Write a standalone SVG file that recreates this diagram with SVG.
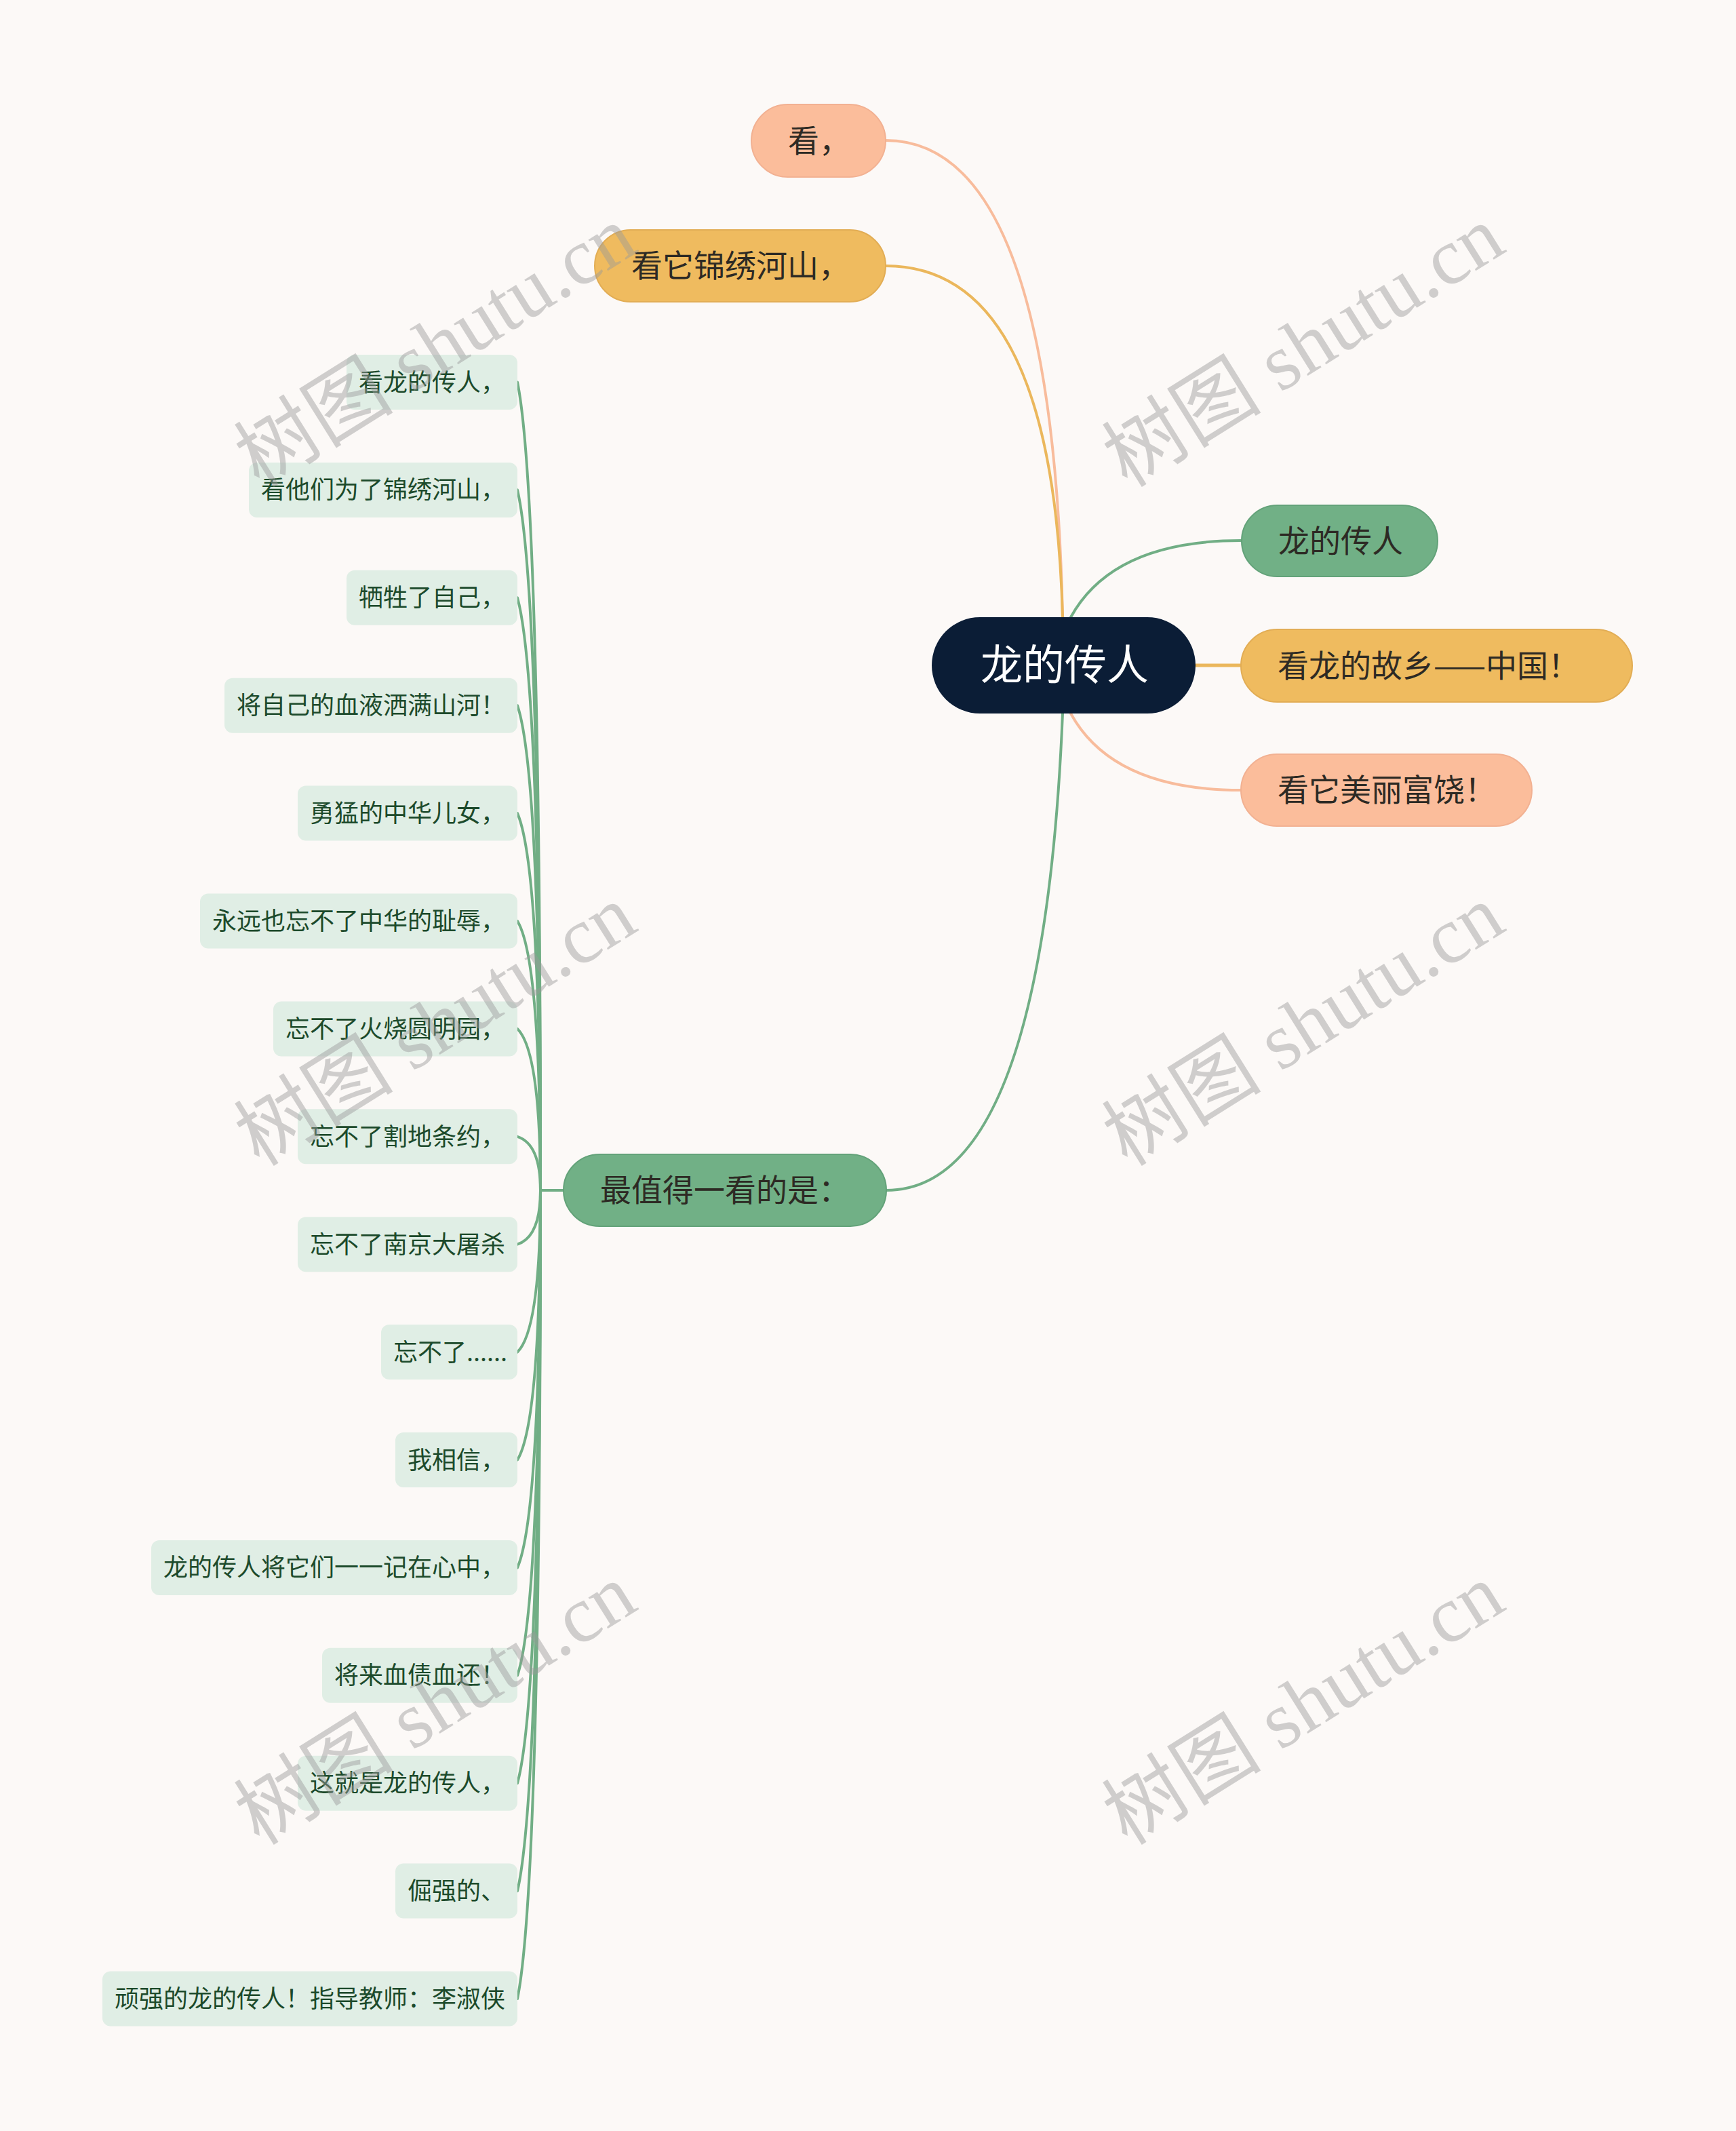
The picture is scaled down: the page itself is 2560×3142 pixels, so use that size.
<svg xmlns="http://www.w3.org/2000/svg" width="2560" height="3142" viewBox="0 0 2560 3142">
<style>
.t{font-family:"Noto Sans CJK SC","Noto Sans",sans-serif}
.main{font-size:46px;fill:#2d2a24}
.leaf{font-size:36px;fill:#1c4a2b}
.lbox{fill:#e0eee5}
.c{fill:none;stroke-width:4;stroke-linecap:round}
.cg{stroke:#71ae85}
.cp{stroke:#f8bc9c}
.cy{stroke:#ebb75c}
.wm{font-family:"Liberation Serif","Noto Sans CJK SC",serif;font-size:118px;fill:#9a9a9a;opacity:0.45}
</style>
<rect x="0" y="0" width="2560" height="3142" fill="#fcf9f7"/>
<g id="connectors">
<path class="c cp" d="M1567 910 Q1552 207 1306 207"/>
<path class="c cy" d="M1567 910 Q1553 392 1306 392"/>
<path class="c cg" d="M1579 910 Q1641 797 1830 797"/>
<path class="c cy" d="M1763 981 L1830 981" style="stroke-width:5"/>
<path class="c cp" d="M1579 1052 Q1641 1165 1830 1165"/>
<path class="c cg" d="M1567 1052 Q1538 1755 1307 1755"/>
<path class="c cg" d="M831 1755 L797 1755"/>
<path class="c cg" d="M763 563.5 Q797 730.3 797 1755"/>
<path class="c cg" d="M763 722.4 Q797 867 797 1755"/>
<path class="c cg" d="M763 881.3 Q797 1003.6 797 1755"/>
<path class="c cg" d="M763 1040.2 Q797 1140.3 797 1755"/>
<path class="c cg" d="M763 1199.1 Q797 1276.9 797 1755"/>
<path class="c cg" d="M763 1358 Q797 1413.6 797 1755"/>
<path class="c cg" d="M763 1516.9 Q797 1550.2 797 1755"/>
<path class="c cg" d="M763 1675.8 Q797 1686.9 797 1755"/>
<path class="c cg" d="M763 1834.7 Q797 1823.5 797 1755"/>
<path class="c cg" d="M763 1993.6 Q797 1960.2 797 1755"/>
<path class="c cg" d="M763 2152.5 Q797 2096.8 797 1755"/>
<path class="c cg" d="M763 2311.4 Q797 2233.5 797 1755"/>
<path class="c cg" d="M763 2470.3 Q797 2370.1 797 1755"/>
<path class="c cg" d="M763 2629.2 Q797 2506.8 797 1755"/>
<path class="c cg" d="M763 2788.1 Q797 2643.4 797 1755"/>
<path class="c cg" d="M763 2947 Q797 2780.1 797 1755"/>
</g>
<g id="root">
<rect x="1374" y="910" width="389" height="142" rx="71" fill="#0b1d36"/>
<text class="t" x="1446" y="1003" font-size="62" fill="#ffffff">龙的传人</text>
</g>
<g id="n-kan">
<rect x="1108" y="154" width="198" height="107" rx="53.5" fill="#fbbd9b" stroke="#f2b192" stroke-width="2"/>
<text class="t main" x="1162" y="224">看，</text>
</g>
<g id="n-jinxiu">
<rect x="877" y="339" width="429" height="106" rx="53" fill="#efbb5f" stroke="#e2ad55" stroke-width="2"/>
<text class="t main" x="931" y="408">看它锦绣河山，</text>
</g>
<g id="n-longdechuanren">
<rect x="1831" y="745" width="289" height="105" rx="52.5" fill="#71b086" stroke="#63a279" stroke-width="2"/>
<text class="t main" x="1885" y="814">龙的传人</text>
</g>
<g id="n-guxiang">
<rect x="1830" y="928" width="577" height="107" rx="53.5" fill="#efbb5f" stroke="#e2ad55" stroke-width="2"/>
<text class="t main" x="1884" y="998">看龙的故乡——中国！</text>
</g>
<g id="n-meili">
<rect x="1830" y="1112" width="429" height="106" rx="53" fill="#fbbd9b" stroke="#f2b192" stroke-width="2"/>
<text class="t main" x="1884" y="1181">看它美丽富饶！</text>
</g>
<g id="n-zuizhide">
<rect x="831" y="1702" width="476" height="106" rx="53" fill="#71b086" stroke="#63a279" stroke-width="2"/>
<text class="t main" x="885" y="1771">最值得一看的是：</text>
</g>
<g id="leaf1"><rect class="lbox" x="511" y="523" width="252" height="81" rx="12"/><text class="t leaf" x="529" y="576.5">看龙的传人，</text></g>
<g id="leaf2"><rect class="lbox" x="367" y="681.9" width="396" height="81" rx="12"/><text class="t leaf" x="385" y="735.4">看他们为了锦绣河山，</text></g>
<g id="leaf3"><rect class="lbox" x="511" y="840.8" width="252" height="81" rx="12"/><text class="t leaf" x="529" y="894.3">牺牲了自己，</text></g>
<g id="leaf4"><rect class="lbox" x="331" y="999.7" width="432" height="81" rx="12"/><text class="t leaf" x="349" y="1053.2">将自己的血液洒满山河！</text></g>
<g id="leaf5"><rect class="lbox" x="439" y="1158.6" width="324" height="81" rx="12"/><text class="t leaf" x="457" y="1212.1">勇猛的中华儿女，</text></g>
<g id="leaf6"><rect class="lbox" x="295" y="1317.5" width="468" height="81" rx="12"/><text class="t leaf" x="313" y="1371">永远也忘不了中华的耻辱，</text></g>
<g id="leaf7"><rect class="lbox" x="403" y="1476.4" width="360" height="81" rx="12"/><text class="t leaf" x="421" y="1529.9">忘不了火烧圆明园，</text></g>
<g id="leaf8"><rect class="lbox" x="439" y="1635.3" width="324" height="81" rx="12"/><text class="t leaf" x="457" y="1688.8">忘不了割地条约，</text></g>
<g id="leaf9"><rect class="lbox" x="439" y="1794.2" width="324" height="81" rx="12"/><text class="t leaf" x="457" y="1847.7">忘不了南京大屠杀</text></g>
<g id="leaf10"><rect class="lbox" x="562" y="1953.1" width="201" height="81" rx="12"/><text class="t leaf" x="580" y="2006.6">忘不了......</text></g>
<g id="leaf11"><rect class="lbox" x="583" y="2112" width="180" height="81" rx="12"/><text class="t leaf" x="601" y="2165.5">我相信，</text></g>
<g id="leaf12"><rect class="lbox" x="223" y="2270.9" width="540" height="81" rx="12"/><text class="t leaf" x="241" y="2324.4">龙的传人将它们一一记在心中，</text></g>
<g id="leaf13"><rect class="lbox" x="475" y="2429.8" width="288" height="81" rx="12"/><text class="t leaf" x="493" y="2483.3">将来血债血还！</text></g>
<g id="leaf14"><rect class="lbox" x="439" y="2588.7" width="324" height="81" rx="12"/><text class="t leaf" x="457" y="2642.2">这就是龙的传人，</text></g>
<g id="leaf15"><rect class="lbox" x="583" y="2747.6" width="180" height="81" rx="12"/><text class="t leaf" x="601" y="2801.1">倔强的、</text></g>
<g id="leaf16"><rect class="lbox" x="151" y="2906.5" width="612" height="81" rx="12"/><text class="t leaf" x="169" y="2960">顽强的龙的传人！指导教师：李淑侠</text></g>
<g id="watermarks">
<text class="wm" text-anchor="middle" transform="translate(642 511) rotate(-32)" y="40">树图 shutu.cn</text>
<text class="wm" text-anchor="middle" transform="translate(1922 511) rotate(-32)" y="40">树图 shutu.cn</text>
<text class="wm" text-anchor="middle" transform="translate(642 1512) rotate(-32)" y="40">树图 shutu.cn</text>
<text class="wm" text-anchor="middle" transform="translate(1922 1512) rotate(-32)" y="40">树图 shutu.cn</text>
<text class="wm" text-anchor="middle" transform="translate(642 2513) rotate(-32)" y="40">树图 shutu.cn</text>
<text class="wm" text-anchor="middle" transform="translate(1922 2513) rotate(-32)" y="40">树图 shutu.cn</text>
</g>
</svg>
